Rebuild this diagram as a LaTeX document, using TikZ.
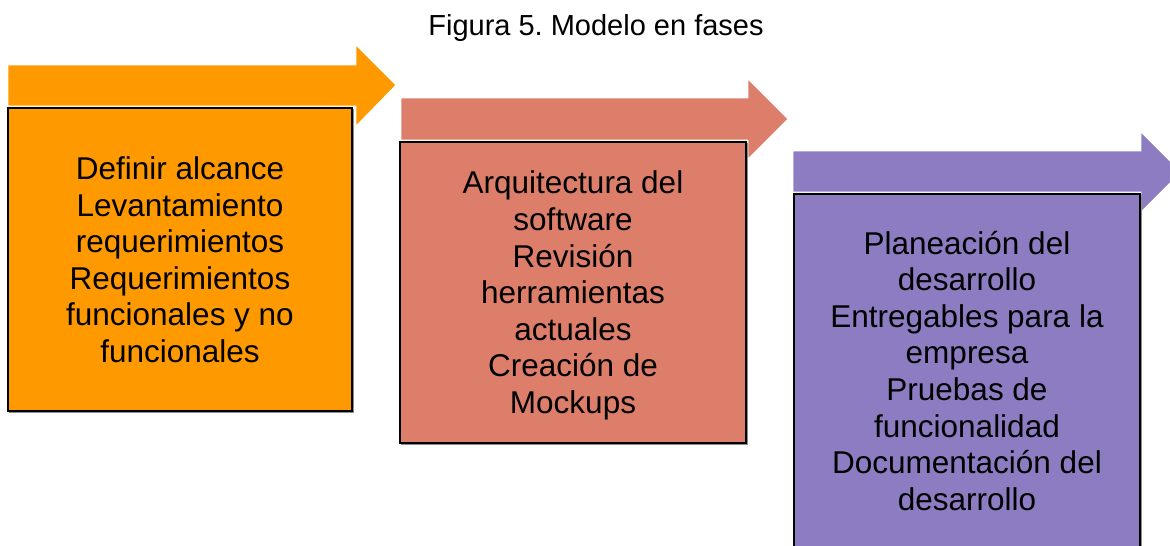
\documentclass[tikz,border=0pt]{standalone}
\usepackage{fontspec}
\setmainfont{Liberation Sans}
\frenchspacing
\definecolor{phaseorange}{HTML}{FF9900}
\definecolor{phasesalmon}{HTML}{DD7E6B}
\definecolor{phasepurple}{HTML}{8E7CC3}
\tikzset{
  phasearrow/.style={draw=white, line width=0.8pt},
  phasebox/.style={draw=black, line width=1.3pt},
  boxshadow/.style={draw=black!45, line width=1pt},
  phasetext/.style={inner sep=0pt, align=center, font=\fontsize{31.5}{36.6}\selectfont},
}
\begin{document}
\begin{tikzpicture}[x=1pt,y=-1pt]
\clip (0,0) rectangle (1170,546);
\fill[white] (0,0) rectangle (1170,546);

% title
\node[anchor=base, inner sep=0pt, font=\fontsize{29}{34}\selectfont] (title) at (596,35) {Figura 5. Modelo en fases};

% arrows
\fill[phaseorange, phasearrow] (8,65) -- (356,65) -- (356,45) -- (396,85) -- (356,126) -- (356,106) -- (8,106) -- cycle;
\fill[phasesalmon, phasearrow] (401,98) -- (748,98) -- (748,79) -- (788,119) -- (748,159) -- (748,140) -- (401,140) -- cycle;
\fill[phasepurple, phasearrow] (793,151) -- (1141,151) -- (1141,132) -- (1181,172) -- (1141,212) -- (1141,192) -- (793,192) -- cycle;

% boxes with slight shadow
\draw[boxshadow] (9.5,109.5) rectangle (353.5,412.5);
\draw[phasebox, fill=phaseorange] (8,108) rectangle (352,411);
\draw[boxshadow] (401.5,143.5) rectangle (747.5,444.5);
\draw[phasebox, fill=phasesalmon] (400,142) rectangle (746,443);
\draw[boxshadow] (795.5,195.5) rectangle (1141.5,562);
\draw[phasebox, fill=phasepurple] (794,194) rectangle (1140,560);

% texts
\node[phasetext] (t1) at (180,259.7) {Definir alcance\\Levantamiento\\requerimientos\\Requerimientos\\funcionales y no\\funcionales};
\node[phasetext] (t2) at (573,295.5) {Arquitectura del\\software\\Revisión\\herramientas\\actuales\\Creación de\\Mockups};
\node[phasetext] (t3) at (967,370.7) {Planeación del\\desarrollo\\Entregables para la\\empresa\\Pruebas de\\funcionalidad\\Documentación del\\desarrollo};
\end{tikzpicture}
\end{document}
